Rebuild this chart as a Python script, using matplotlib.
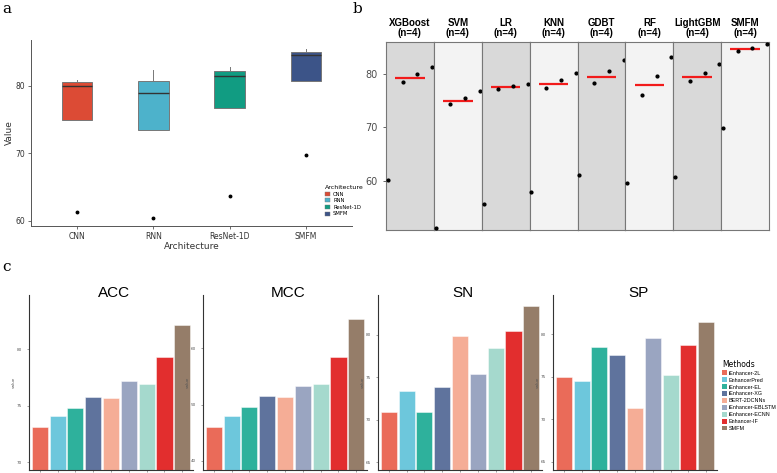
import matplotlib.pyplot as plt
from matplotlib.patches import Patch
import numpy as np

plt.rcParams['font.family'] = ['DejaVu Sans']

W, H = 777, 473

# panel a: box statistics per architecture
architectures = ["CNN", "RNN", "ResNet-1D", "SMFM"]
arch_q1 = [74.9, 73.5, 76.7, 80.7]
arch_median = [79.9, 79.0, 81.4, 84.6]
arch_q3 = [80.6, 80.7, 82.2, 85.0]
arch_upper = [80.8, 82.4, 82.8, 85.5]
arch_outlier = [61.3, 60.4, 63.7, 69.8]
arch_colors = ["#DC4B35", "#4DB2CB", "#119C82", "#3C5488"]

# panel b: four scores per model
models = ["XGBoost", "SVM", "LR", "KNN", "GDBT", "RF", "LightGBM", "SMFM"]
model_scores = [
    [60.1, 78.6, 80.0, 81.4],
    [51.1, 74.3, 75.6, 76.9],
    [55.6, 77.3, 77.8, 78.2],
    [57.8, 77.4, 78.9, 80.3],
    [61.1, 78.3, 80.6, 82.7],
    [59.6, 76.1, 79.7, 83.3],
    [60.6, 78.7, 80.3, 81.9],
    [69.8, 84.4, 84.9, 85.7],
]

# panel c: method comparison
methods = ["iEnhancer-2L", "EnhancerPred", "iEnhancer-EL", "iEnhancer-XG",
           "BERT-2DCNNs", "iEnhancer-EBLSTM", "iEnhancer-ECNN", "Enhancer-IF", "SMFM"]
acc = [73.1, 74.1, 74.8, 75.8, 75.7, 77.2, 76.9, 79.3, 82.1]
mcc = [46.1, 48.0, 49.6, 51.5, 51.3, 53.3, 53.6, 58.5, 65.1]
sn = [70.9, 73.4, 70.9, 73.9, 79.9, 75.4, 78.4, 80.4, 83.4]
sp = [75.0, 74.5, 78.5, 77.5, 71.3, 79.5, 75.2, 78.7, 81.4]
method_colors = ["#E64B35", "#4DBBD5", "#00A087", "#3C5488", "#F39B7F",
                 "#8491B4", "#91D1C2", "#DC0000", "#7E6148"]


def px_axes(fig, x0, y0, x1, y1):
    return fig.add_axes([x0 / W, 1 - y1 / H, (x1 - x0) / W, (y1 - y0) / H])


fig = plt.figure(figsize=(W / 100, H / 100), dpi=100)

# ---------------- panel a ----------------
ax = px_axes(fig, 31, 40, 352, 226)
stats = []
for i in range(len(architectures)):
    stats.append(dict(label=architectures[i], q1=arch_q1[i], med=arch_median[i],
                      q3=arch_q3[i], whislo=arch_q1[i], whishi=arch_upper[i],
                      fliers=[arch_outlier[i]]))
bp = ax.bxp(stats, positions=np.arange(1, 5), widths=0.4, patch_artist=True,
            showcaps=False,
            boxprops=dict(edgecolor="#777777", linewidth=0.7),
            medianprops=dict(color="#333333", linewidth=1.0),
            whiskerprops=dict(color="#777777", linewidth=0.7),
            flierprops=dict(marker="o", markersize=1.8, markerfacecolor="black",
                            markeredgecolor="black"))
for patch, c in zip(bp["boxes"], arch_colors):
    patch.set_facecolor(c)
ax.set_xlim(0.4, 4.6)
ax.set_ylim(59.2, 86.8)
ax.set_yticks([60, 70, 80])
ax.set_xticks(np.arange(1, 5))
ax.set_xticklabels(architectures)
ax.tick_params(labelsize=5.5, colors="#333333", length=2, width=0.5, pad=2)
for s in ["top", "right"]:
    ax.spines[s].set_visible(False)
for s in ["left", "bottom"]:
    ax.spines[s].set_color("#555555")
    ax.spines[s].set_linewidth(0.7)
ax.set_xlabel("Architecture", fontsize=6.5, color="#333333", labelpad=1)
ax.set_ylabel("Value", fontsize=6.5, color="#333333", labelpad=1)
handles = [Patch(facecolor=c, edgecolor="#777777", linewidth=0.3) for c in arch_colors]
leg = ax.legend(handles, architectures, title="Architecture", loc="upper left",
                bbox_to_anchor=(0.905, 0.24), frameon=False, fontsize=3.8,
                title_fontsize=4.5, handlelength=1.0, handleheight=0.8,
                labelspacing=0.3, handletextpad=0.5, borderpad=0.2)
leg._legend_box.align = "left"

# ---------------- panel b ----------------
fw = (769 - 386) / len(models)
for i, m in enumerate(models):
    bx = px_axes(fig, 386 + i * fw, 41.7, 386 + (i + 1) * fw, 230)
    bx.set_facecolor("#D9D9D9" if i % 2 == 0 else "#F3F3F3")
    vals = sorted(model_scores[i])
    bx.scatter(np.arange(1, 5), vals, s=4, color="black", zorder=3, clip_on=False)
    bx.hlines(np.median(vals), 1.5, 3.5, color="#F21B1B", linewidth=1.6, zorder=2)
    bx.set_xlim(0.88, 4.12)
    bx.set_ylim(50.7, 86.1)
    bx.set_xticks([])
    for s in bx.spines.values():
        s.set_color("#777777")
        s.set_linewidth(0.8)
    if i == 0:
        bx.set_yticks([60, 70, 80])
        bx.tick_params(axis="y", labelsize=7, colors="#4D4D4D", length=2.5, width=0.6)
    else:
        bx.set_yticks([])
    bx.text(0.5, 1.073, f"{m}\n(n=4)", transform=bx.transAxes, ha="center",
            va="center", fontsize=7, fontweight="bold", linespacing=1.1,
            family=["Liberation Sans", "DejaVu Sans"])

# ---------------- panel c ----------------
panels = [("ACC", acc, (69.3, 84.8), [70, 75, 80], 29),
          ("MCC", mcc, (38.4, 69.4), [40, 50, 60], 203),
          ("SN", sn, (64.06, 84.7), [65, 70, 75, 80], 378),
          ("SP", sp, (64.06, 84.6), [65, 70, 75, 80], 553)]
for name, vals, ylim, ticks, x0 in panels:
    cx = px_axes(fig, x0, 295, x0 + 164, 470)
    xs = np.arange(1, len(methods) + 1)
    cx.bar(xs, vals, width=0.9, color=method_colors, alpha=0.82,
           edgecolor="white", linewidth=0.4)
    cx.set_xlim(0.4, 9.6)
    cx.set_ylim(*ylim)
    cx.set_yticks(ticks)
    cx.set_xticks(xs)
    cx.set_xticklabels([])
    cx.tick_params(labelsize=3, colors="#555555", length=1.5, width=0.4)
    for s in ["top", "right"]:
        cx.spines[s].set_visible(False)
    for s in ["left", "bottom"]:
        cx.spines[s].set_color("#333333")
        cx.spines[s].set_linewidth(0.8)
    cx.set_ylabel("value", fontsize=3, color="#555555", labelpad=1)
    cx.text(0.52, 1.01, name, transform=cx.transAxes, ha="center", va="center",
            fontsize=11, family=["Liberation Sans", "DejaVu Sans"])

handles = [Patch(facecolor=c, alpha=0.82) for c in method_colors]
leg_c = fig.legend(handles, methods, title="Methods", loc="upper left",
                   bbox_to_anchor=(718 / W, 1 - 356 / H), frameon=False,
                   prop=dict(family=["Liberation Sans", "DejaVu Sans"], size=3.9),
                   title_fontsize=5.5, handlelength=0.9, handleheight=1.0,
                   labelspacing=0.3, handletextpad=0.4, borderpad=0.2)
leg_c._legend_box.align = "left"

# panel letters
for letter, x, y in [("a", 2, 9), ("b", 353, 9), ("c", 2, 267)]:
    fig.text(x / W, 1 - y / H, letter, fontsize=11, family="DejaVu Serif",
             ha="left", va="center")

fig.savefig("out.png", dpi=100)
